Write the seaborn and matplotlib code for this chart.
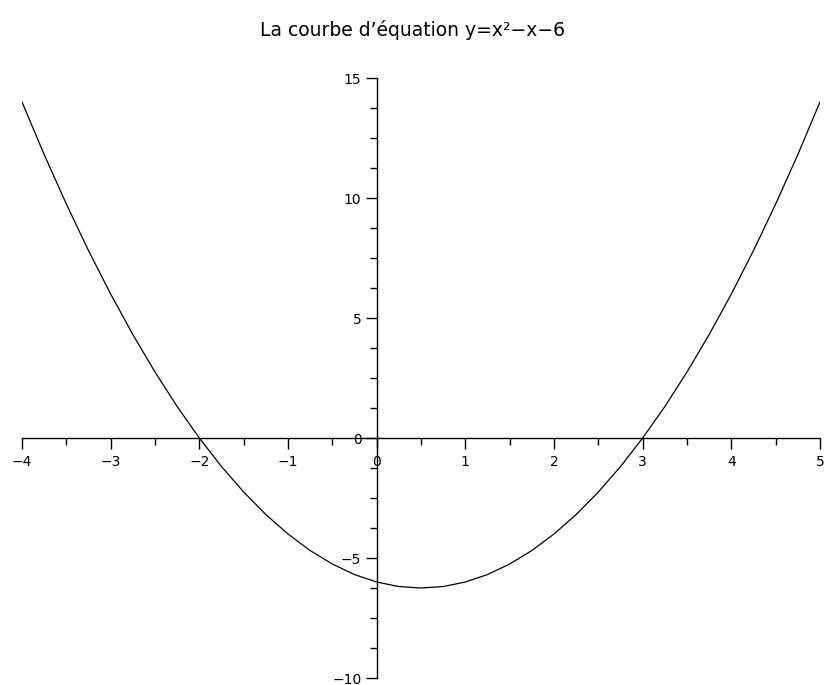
import matplotlib
matplotlib.use("Agg")
import matplotlib.pyplot as plt
from matplotlib.ticker import MultipleLocator
import seaborn as sns
import pandas as pd

# Points on the curve y = x^2 - x - 6
x_vals = [-4.0, -3.75, -3.5, -3.25, -3.0, -2.75, -2.5, -2.25, -2.0, -1.75, -1.5, -1.25,
          -1.0, -0.75, -0.5, -0.25, 0.0, 0.25, 0.5, 0.75, 1.0, 1.25, 1.5, 1.75,
          2.0, 2.25, 2.5, 2.75, 3.0, 3.25, 3.5, 3.75, 4.0, 4.25, 4.5, 4.75, 5.0]
y_vals = [14.0, 11.81, 9.75, 7.81, 6.0, 4.31, 2.75, 1.31, 0.0, -1.19, -2.25, -3.19,
          -4.0, -4.69, -5.25, -5.69, -6.0, -6.19, -6.25, -6.19, -6.0, -5.69, -5.25, -4.69,
          -4.0, -3.19, -2.25, -1.19, 0.0, 1.31, 2.75, 4.31, 6.0, 7.81, 9.75, 11.81, 14.0]

x_ticks = [-4, -3, -2, -1, 0, 1, 2, 3, 4, 5]
y_ticks = [-10, -5, 0, 5, 10, 15]
title = "La courbe d\u2019\u00e9quation y=x\u00b2\u2212x\u22126"

sns.set_theme(style="white")
plt.rcParams["font.family"] = ["DejaVu Sans"]

df = pd.DataFrame({"x": x_vals, "y": y_vals})

fig = plt.figure(figsize=(8.24, 6.85), dpi=100)
ax = fig.add_axes([22 / 824, 7 / 685, 798 / 824, 600 / 685])

sns.lineplot(data=df, x="x", y="y", ax=ax, color="black", linewidth=0.9,
             sort=False, estimator=None)

ax.set_xlim(-4, 5)
ax.set_ylim(-10, 15)

# Axes crossing at the origin
ax.spines["left"].set_position(("data", 0))
ax.spines["bottom"].set_position(("data", 0))
ax.spines["top"].set_visible(False)
ax.spines["right"].set_visible(False)
for s in ("left", "bottom"):
    ax.spines[s].set_color("black")
    ax.spines[s].set_linewidth(1.0)

ax.set_xticks(x_ticks)
ax.set_yticks(y_ticks)
ax.xaxis.set_minor_locator(MultipleLocator(0.5))
ax.yaxis.set_minor_locator(MultipleLocator(1.25))
ax.tick_params(axis="both", which="major", direction="out", length=8, width=1,
               color="black", labelsize=10, labelcolor="black")
ax.tick_params(axis="x", which="major", pad=4)
ax.tick_params(axis="y", which="major", pad=3)
ax.tick_params(axis="both", which="minor", direction="out", length=5, width=1,
               color="black")
ax.tick_params(axis="x", which="both", bottom=True, top=False)
ax.tick_params(axis="y", which="both", left=True, right=False)
ax.set_xlabel("")
ax.set_ylabel("")
ax.grid(False)

fig.text(0.5, 1 - 30 / 685, title, ha="center", va="center", fontsize=13.5,
         color="black")

fig.savefig("out.png", dpi=100, facecolor="white")
